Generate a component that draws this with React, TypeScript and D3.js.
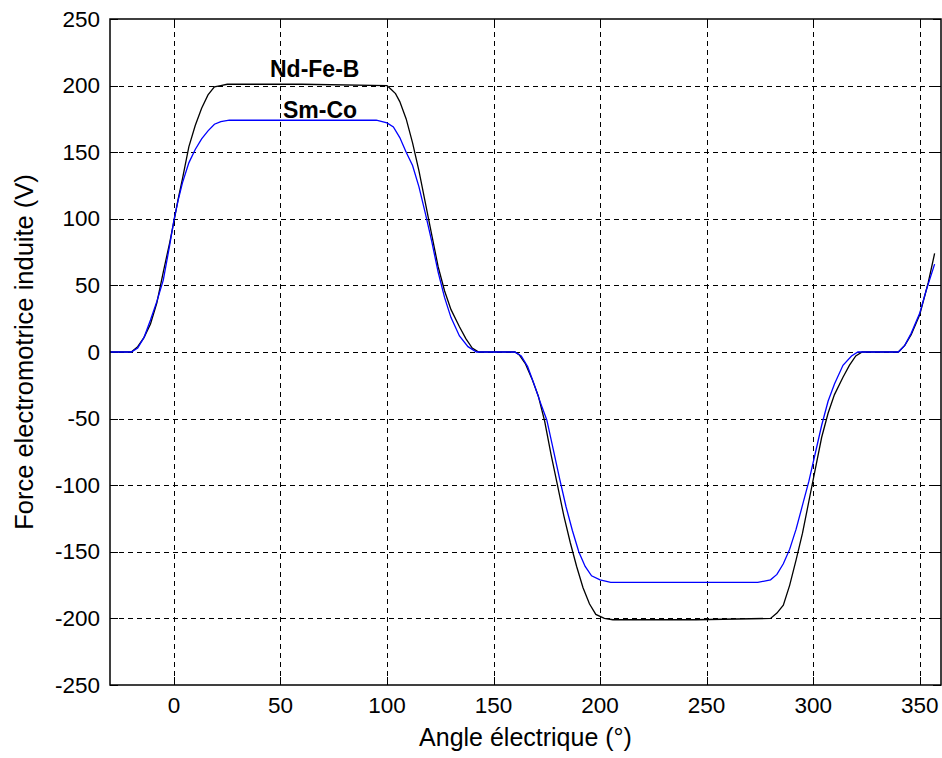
import React from "react";
import * as d3 from "d3";

const ndfebX = [-30, -20, -17, -14, -11, -8, -5, -2, 0, 2, 4, 7, 10, 13, 16, 19, 22, 25, 60, 100, 102, 104, 106, 109, 112, 115, 118, 121, 124, 127, 130, 134, 137, 140, 143, 160, 162, 165, 168, 171, 174, 177, 180, 183, 186, 189, 192, 195, 198, 202, 206, 245, 280, 283, 286, 289, 292, 295, 298, 301, 304, 307, 310, 314, 317, 320, 323, 340, 343, 346, 350, 354, 357];
const ndfebY = [0, 0, 4, 11, 21, 37, 60, 82, 98, 115, 130, 154, 170, 183, 193, 199, 200, 201, 201, 200, 197, 194, 188, 175, 157, 136, 112, 88, 64, 46, 32, 19, 10, 3, 0, 0, -2, -9, -20, -33, -52, -77, -100, -123, -143, -161, -177, -189, -197, -200, -201, -201, -200, -196, -190, -175, -156, -136, -112, -88, -64, -46, -32, -19, -10, -3, 0, 0, 5, 13, 28, 52, 74];

const smcoX = [-30, -20, -17, -14, -11, -8, -5, -2, 0, 2, 4, 7, 10, 13, 16, 19, 22, 26, 60, 95, 100, 103, 106, 109, 112, 115, 118, 121, 124, 127, 130, 134, 138, 142, 160, 163, 166, 169, 172, 175, 178, 181, 184, 187, 190, 193, 196, 200, 205, 240, 274, 280, 283, 286, 289, 292, 295, 298, 301, 304, 307, 310, 314, 318, 321, 340, 343, 346, 350, 353, 357];
const smcoY = [0, 0, 3, 11, 24, 38, 54, 80, 99, 114, 127, 142, 152, 160, 166, 171, 173, 174, 174, 174, 172, 169, 161, 150, 140, 124, 104, 83, 60, 41, 26, 12, 4, 0, 0, -3, -11, -24, -38, -51, -73, -95, -116, -134, -150, -161, -168, -171, -173, -173, -173, -171, -167, -159, -148, -133, -115, -97, -76, -55, -37, -24, -10, -3, 0, 0, 5, 14, 29, 46, 66];

const xTicks = [0, 50, 100, 150, 200, 250, 300, 350];
const yTicks = [-250, -200, -150, -100, -50, 0, 50, 100, 150, 200, 250];

const xLabel = "Angle électrique (°)";
const yLabel = "Force electromotrice induite (V)";
const seriesLabels = ["Nd-Fe-B", "Sm-Co"];

export default function App() {
  const W = 942, H = 758;
  const L = 110, R = 941, T = 19, B = 685;
  const x = d3.scaleLinear().domain([-30, 360]).range([L, R]);
  const y = d3.scaleLinear().domain([-250, 250]).range([B, T]);
  const px = (v: number) => Math.round(x(v)) + 0.5;
  const py = (v: number) => Math.round(y(v)) + 0.5;
  const line = d3.line<[number, number]>().x(d => x(d[0])).y(d => y(d[1]));
  const nd = line(ndfebX.map((v, i) => [v, ndfebY[i]] as [number, number])) || "";
  const sm = line(smcoX.map((v, i) => [v, smcoY[i]] as [number, number])) || "";
  const font = "'Liberation Sans', Arial, sans-serif";
  const tl = 8;
  return (
    <svg width={W} height={H} style={{ position: "absolute", left: 0, top: 0, background: "#fff" }} fontFamily={font}>
      <rect x={0} y={0} width={W} height={H} fill="#fff" />
      {/* grid */}
      <g stroke="#000" strokeWidth={1.2} strokeDasharray="5,4" fill="none" shapeRendering="crispEdges">
        {xTicks.map(t => (
          <line key={"gx" + t} x1={px(t)} x2={px(t)} y1={B} y2={T} />
        ))}
        {yTicks.filter(t => t > -250 && t < 250).map(t => (
          <line key={"gy" + t} x1={L} x2={R} y1={py(t)} y2={py(t)} />
        ))}
      </g>
      {/* ticks */}
      <g stroke="#000" strokeWidth={1} shapeRendering="crispEdges">
        {xTicks.map(t => (
          <g key={"tx" + t}>
            <line x1={px(t)} x2={px(t)} y1={B} y2={B - tl} />
            <line x1={px(t)} x2={px(t)} y1={T} y2={T + tl} />
          </g>
        ))}
        {yTicks.map(t => (
          <g key={"ty" + t}>
            <line x1={L} x2={L + tl} y1={py(t)} y2={py(t)} />
            <line x1={R} x2={R - tl} y1={py(t)} y2={py(t)} />
          </g>
        ))}
      </g>
      {/* curves */}
      <path d={nd} fill="none" stroke="#000" strokeWidth={1.3} />
      <path d={sm} fill="none" stroke="#0000ff" strokeWidth={1.3} />
      {/* frame */}
      <rect x={L} y={T} width={R - L} height={B - T} fill="none" stroke="#000" strokeWidth={1.5} />
      {/* tick labels */}
      <g fontSize={22.5} fill="#000">
        {xTicks.map(t => (
          <text key={"lx" + t} x={x(t)} y={713} textAnchor="middle">{t}</text>
        ))}
        {yTicks.map(t => (
          <text key={"ly" + t} x={100} y={y(t)} textAnchor="end" dominantBaseline="central">{t}</text>
        ))}
      </g>
      <text x={(L + R) / 2} y={746} textAnchor="middle" fontSize={25}>{xLabel}</text>
      <text transform={`translate(33, ${(T + B) / 2}) rotate(-90)`} textAnchor="middle" fontSize={25.5}>{yLabel}</text>
      <text x={270} y={77} fontSize={23} fontWeight="bold">{seriesLabels[0]}</text>
      <text x={283} y={118} fontSize={23} fontWeight="bold">{seriesLabels[1]}</text>
    </svg>
  );
}
